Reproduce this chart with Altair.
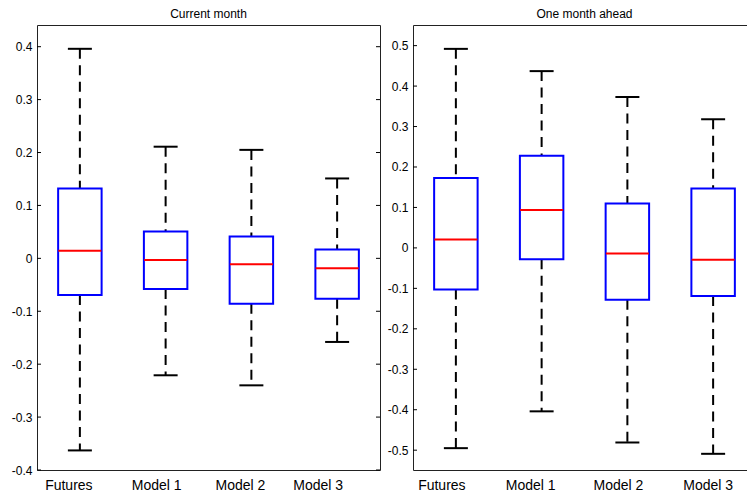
import altair as alt
import pandas as pd

categories = ["Futures", "Model 1", "Model 2", "Model 3"]

# Current month
cur_lower = [-0.363, -0.221, -0.240, -0.158]
cur_q1 = [-0.0695, -0.058, -0.086, -0.0763]
cur_median = [0.0143, -0.0031, -0.011, -0.0186]
cur_q3 = [0.132, 0.0508, 0.0415, 0.0167]
cur_upper = [0.396, 0.211, 0.205, 0.151]
cur_ticks = [-0.4, -0.3, -0.2, -0.1, 0.0, 0.1, 0.2, 0.3, 0.4]
cur_domain = [-0.4, 0.441]

# One month ahead
ahead_lower = [-0.495, -0.404, -0.481, -0.509]
ahead_q1 = [-0.103, -0.028, -0.128, -0.119]
ahead_median = [0.0207, 0.0937, -0.014, -0.029]
ahead_q3 = [0.173, 0.228, 0.110, 0.147]
ahead_upper = [0.492, 0.437, 0.373, 0.318]
ahead_ticks = [-0.5, -0.4, -0.3, -0.2, -0.1, 0.0, 0.1, 0.2, 0.3, 0.4, 0.5]
ahead_domain = [-0.549, 0.551]

FONT = "Liberation Sans"
W = 343
H = 445

label_expr = ("datum.value == 0 ? '0' : (datum.value < 0 ? '-' + format(-datum.value, '.1f') "
              ": format(datum.value, '.1f'))")


def offset_expr(offs):
    # per-label horizontal nudge of the category labels (styling only)
    parts = ""
    for c, o in zip(categories, offs):
        parts += f"datum.value == '{c}' ? {o} : "
    return {"expr": parts + "-10"}


def panel(title, lower, q1, med, q3, upper, ticks, domain, offs):
    df = pd.DataFrame({"cat": categories, "lower": lower, "q1": q1,
                       "median": med, "q3": q3, "upper": upper})
    tdf = pd.DataFrame({"t": ticks})
    x = alt.X("cat:N", sort=categories,
              scale=alt.Scale(paddingInner=0, paddingOuter=0),
              axis=alt.Axis(title=None, labelAngle=0, ticks=False, domain=False,
                            labelFont=FONT, labelFontSize=14, labelColor="black",
                            labelPadding=8, labelOffset=offset_expr(offs)))
    yscale = alt.Scale(domain=domain, nice=False, zero=False)
    yaxis = alt.Axis(title=None, values=ticks, ticks=False, domain=False, grid=False,
                     labelFont=FONT, labelFontSize=12, labelColor="black",
                     labelPadding=5, labelExpr=label_expr)
    base = alt.Chart(df)
    whisk_up = base.mark_rule(color="black", strokeWidth=2, strokeDash=[10, 6.5]).encode(
        x=x, y=alt.Y("upper:Q", scale=yscale, axis=yaxis), y2="q3:Q")
    whisk_lo = base.mark_rule(color="black", strokeWidth=2, strokeDash=[10, 6.5]).encode(
        x=x, y=alt.Y("q1:Q"), y2="lower:Q")
    box = base.mark_bar(width=alt.RelativeBandSize(0.507), fill="white",
                        stroke="#0000ff", strokeWidth=2).encode(
        x=x, y=alt.Y("q1:Q"), y2="q3:Q")
    med_t = base.mark_tick(size=43, thickness=2, color="#ff0000", opacity=1).encode(
        x=x, y=alt.Y("median:Q"))
    cap_up = base.mark_tick(size=24, thickness=2, color="black", opacity=1).encode(
        x=x, y=alt.Y("upper:Q"))
    cap_lo = base.mark_tick(size=24, thickness=2, color="black", opacity=1).encode(
        x=x, y=alt.Y("lower:Q"))
    tk = alt.Chart(tdf)
    tick_l = tk.mark_rule(color="black", strokeWidth=1).encode(
        y=alt.Y("t:Q"), x=alt.value(0), x2=alt.value(4))
    tick_r = tk.mark_rule(color="black", strokeWidth=1).encode(
        y=alt.Y("t:Q"), x=alt.value(W - 4), x2=alt.value(W))
    return alt.layer(whisk_up, whisk_lo, box, med_t, cap_up, cap_lo, tick_l, tick_r).properties(
        width=W, height=H,
        title=alt.TitleParams(title, font=FONT, fontSize=12, fontWeight="normal",
                              color="black", anchor="middle", offset=4))


left = panel("Current month", cur_lower, cur_q1, cur_median, cur_q3, cur_upper,
             cur_ticks, cur_domain, [-11, -9, -11, -19])
right = panel("One month ahead", ahead_lower, ahead_q1, ahead_median, ahead_q3, ahead_upper,
              ahead_ticks, ahead_domain, [-14, -11, -9, -5])

chart = alt.hconcat(left, right, spacing=5).properties(
    background="white",
    padding={"left": 2, "top": -1, "right": -10, "bottom": -3}
).configure_view(stroke="#222222", strokeWidth=1)

chart.save("out.html", embed_options={"renderer": "svg", "actions": False})
